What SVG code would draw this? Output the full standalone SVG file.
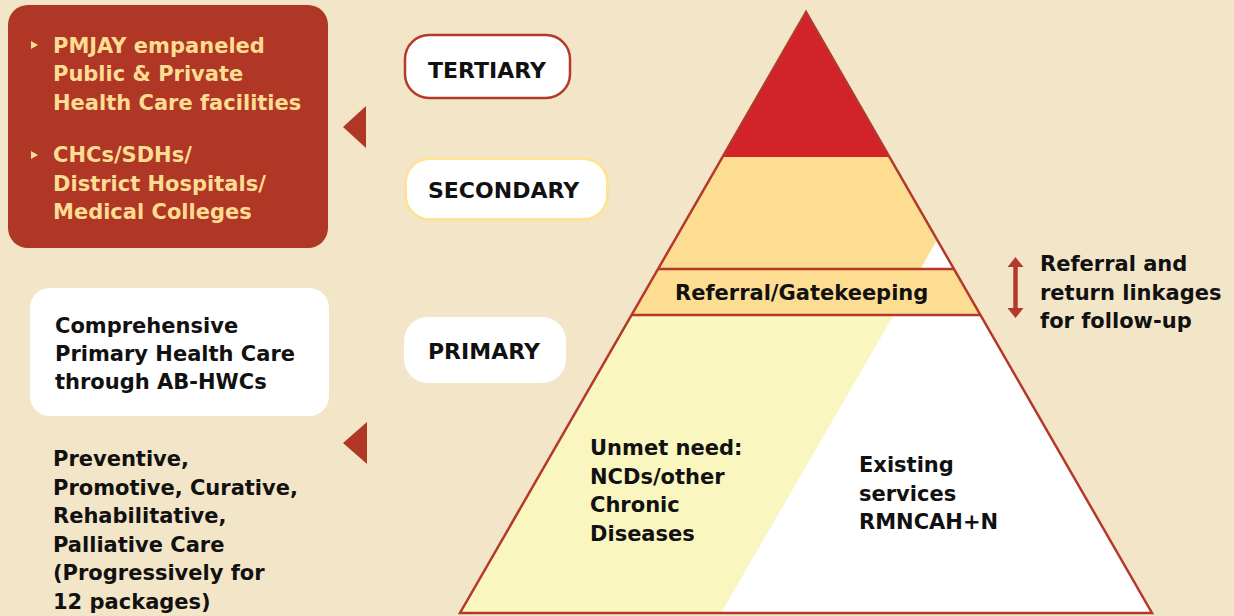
<svg xmlns="http://www.w3.org/2000/svg" width="1234" height="616" viewBox="0 0 1234 616">
<style>
.t{font-family:"DejaVu Sans","Liberation Sans",sans-serif;font-weight:bold;font-size:21px;fill:#111111}
.y{fill:#fddd92}
.lvl{font-size:22px}
.edge{stroke:#b5392a;stroke-width:2.5;fill:none}
.ptr{fill:#b03626}
.ah{fill:#b5392a}
</style>
<defs>
<marker id="ah" viewBox="0 0 10 16" refX="1" refY="8" markerWidth="10" markerHeight="16" orient="auto-start-reverse" markerUnits="userSpaceOnUse">
<path d="M0,0 L10,8 L0,16 Z" class="ah"/>
</marker>
</defs>
<rect width="1234" height="616" fill="#f3e5c8"/>

<g id="pyramid">
<path d="M806,12 L722.5,157 L889.5,157 Z" fill="#d2232a"/>
<path d="M722.5,157 L658,269 L954,269 L937,240 L889.5,157 Z" fill="#fddd92"/>
<path d="M937,240 L920.5,269 L954,269 Z" fill="#ffffff"/>
<path d="M658,269 L631.6,315 L980.4,315 L954,269 Z" fill="#fddd92"/>
<path d="M631.6,315 L460,613 L721,613 L893.6,315 Z" fill="#faf6bf"/>
<path d="M893.6,315 L721,613 L1152,613 L980.4,315 Z" fill="#ffffff"/>
<line class="edge" x1="658" y1="269" x2="954" y2="269"/>
<line class="edge" x1="631.6" y1="315" x2="980.4" y2="315"/>
<path class="edge" d="M806,12 L460,613 L1152,613 Z"/>
<text class="t" x="675" y="300">Referral/Gatekeeping</text>
</g>

<g id="unmet">
<text class="t" x="590" y="455">Unmet need:</text>
<text class="t" x="590" y="483.5">NCDs/other</text>
<text class="t" x="590" y="512">Chronic</text>
<text class="t" x="590" y="540.5">Diseases</text>
</g>

<g id="existing">
<text class="t" x="859" y="472">Existing</text>
<text class="t" x="859" y="500.5">services</text>
<text class="t" x="859" y="529">RMNCAH+N</text>
</g>

<g id="tertiary">
<rect x="405" y="35" width="165" height="63" rx="24" fill="#ffffff" stroke="#b5392a" stroke-width="2.5"/>
<text class="t lvl" x="428" y="78">TERTIARY</text>
</g>

<g id="secondary">
<rect x="405.5" y="158.5" width="202" height="61" rx="24" fill="#ffffff" stroke="#fde39a" stroke-width="3"/>
<text class="t lvl" x="428" y="198">SECONDARY</text>
</g>

<g id="primary">
<rect x="404" y="317" width="162" height="66" rx="24" fill="#ffffff"/>
<text class="t lvl" x="428" y="359">PRIMARY</text>
</g>

<g id="facilities">
<rect x="8" y="5" width="320" height="243" rx="20" fill="#b03626"/>
<path d="M31,41 L38,45 L31,49 Z" fill="#fddd92"/>
<text class="t y" x="53" y="52.5">PMJAY empaneled</text>
<text class="t y" x="53" y="81">Public &amp; Private</text>
<text class="t y" x="53" y="109.5">Health Care facilities</text>
<path d="M31,151 L38,155 L31,159 Z" fill="#fddd92"/>
<text class="t y" x="53" y="162">CHCs/SDHs/</text>
<text class="t y" x="53" y="190.5">District Hospitals/</text>
<text class="t y" x="53" y="219">Medical Colleges</text>
</g>

<g id="hwc">
<rect x="30" y="288" width="299" height="128" rx="20" fill="#ffffff"/>
<text class="t" x="55" y="333">Comprehensive</text>
<text class="t" x="55" y="361">Primary Health Care</text>
<text class="t" x="55" y="389">through AB-HWCs</text>
</g>

<g id="services">
<text class="t" x="53" y="466">Preventive,</text>
<text class="t" x="53" y="494.5">Promotive, Curative,</text>
<text class="t" x="53" y="523">Rehabilitative,</text>
<text class="t" x="53" y="551.5">Palliative Care</text>
<text class="t" x="53" y="580">(Progressively for</text>
<text class="t" x="53" y="608.5">12 packages)</text>
</g>

<g id="linkages">
<text class="t" x="1040" y="271">Referral and</text>
<text class="t" x="1040" y="299.5">return linkages</text>
<text class="t" x="1040" y="328">for follow-up</text>
</g>

<g id="connectors">
<path class="ptr" d="M343,127 L366,106 L366,148 Z"/>
<path class="ptr" d="M343,443 L367,422 L367,464 Z"/>
<line x1="1015.5" y1="266" x2="1015.5" y2="309" stroke="#b5392a" stroke-width="4.5" marker-start="url(#ah)" marker-end="url(#ah)"/>
</g>
</svg>
